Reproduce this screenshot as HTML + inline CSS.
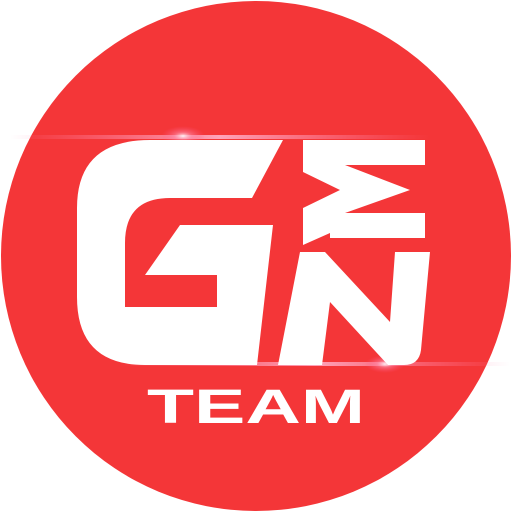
<!DOCTYPE html>
<html><head><meta charset="utf-8"><style>
html,body{margin:0;padding:0;background:#fff;width:512px;height:512px;overflow:hidden}
svg{display:block}
</style></head><body>
<svg width="512" height="512" viewBox="0 0 512 512">
<defs>
<radialGradient id="flare" cx="50%" cy="50%" r="50%">
<stop offset="0" stop-color="#fff" stop-opacity="0.9"/>
<stop offset="0.4" stop-color="#ff8fb0" stop-opacity="0.5"/>
<stop offset="1" stop-color="#ff5080" stop-opacity="0"/>
</radialGradient>
<linearGradient id="streak" x1="0" x2="1">
<stop offset="0" stop-color="#ff7fa8" stop-opacity="0"/>
<stop offset="0.5" stop-color="#ffb0c8" stop-opacity="0.9"/>
<stop offset="1" stop-color="#ff7fa8" stop-opacity="0"/>
</linearGradient>
</defs>
<circle cx="256" cy="256" r="255" fill="#f43638"/>
<rect x="10" y="135" width="420" height="4" fill="url(#streak)"/>
<ellipse cx="183" cy="136" rx="22" ry="10" fill="url(#flare)"/>
<rect x="120" y="362" width="390" height="4" fill="url(#streak)"/>
<ellipse cx="385" cy="364" rx="20" ry="9" fill="url(#flare)"/>
<path fill="#fff"
 d="M150,140 L283,140 L252,198 L170,198 Q125,198 125,243 L125,307 L217,307 L217,275 L145,275 L180,225 L273,225 L257,365 L145,365 Q77,365 77,297 L77,208 Q77,140 150,140 Z"/>
<polygon fill="#fff"
 points="303,140 425,140 425,165 345,165 410,190 345,213 425,213 425,238 330,238 330,233 303,245 303,208 340,190 303,172"/>
<path fill="#fff"
 d="M300,252 L325,252 L390,322 L395,252 L430,252 L421,350 Q419,365 404,365 L388,365 L330,302 L322,365 L278,365 Z"/>
<text x="147" y="423" textLength="218" lengthAdjust="spacingAndGlyphs" font-family="Liberation Sans, sans-serif" font-weight="bold" font-size="48" fill="#fff">TEAM</text>
</svg>
</body></html>
